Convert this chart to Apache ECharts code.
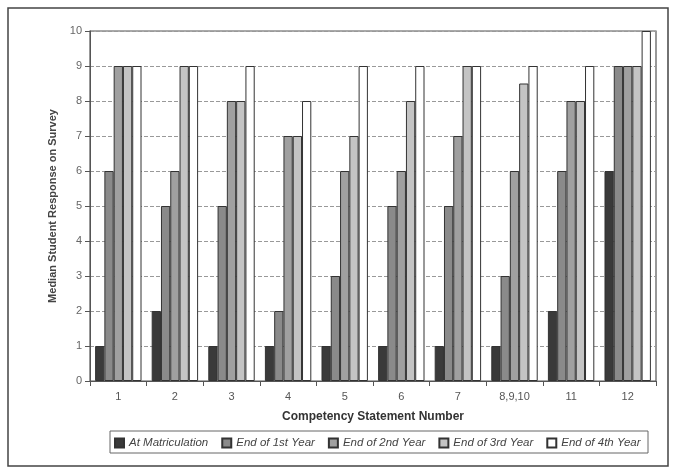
<!DOCTYPE html>
<html><head><meta charset="utf-8">
<script src="https://cdn.jsdelivr.net/npm/echarts@6/dist/echarts.min.js"></script>
<style>html,body{margin:0;padding:0;background:#fff}#c{width:676px;height:472px}</style>
</head><body><div id="c"></div>
<script>
var categories = ['1','2','3','4','5','6','7','8,9,10','11','12'];
var atMatriculation = [1,2,1,1,1,1,1,1,2,6];
var endYear1 = [6,5,5,2,3,5,5,3,6,9];
var endYear2 = [9,6,8,7,6,6,7,6,8,9];
var endYear3 = [9,9,8,7,7,8,9,8.5,8,9];
var endYear4 = [9,9,9,8,9,9,9,9,9,10];
var seriesNames = ['At Matriculation','End of 1st Year','End of 2nd Year','End of 3rd Year','End of 4th Year'];
var yTicks = [0,1,2,3,4,5,6,7,8,9,10];

var colors = ['#3a3a3a','#8a8a8a','#a0a0a0','#c4c4c4','#ffffff'];
var data = [atMatriculation,endYear1,endYear2,endYear3,endYear4];
var chart = echarts.init(document.getElementById('c'));
var font = 'Liberation Sans, Arial, sans-serif';
chart.setOption({
  animation:false,
  backgroundColor:'#fff',
  graphic:[
    {type:'rect',shape:{x:8,y:8,width:660,height:458},style:{fill:'none',stroke:'#444',lineWidth:1.5},z:-1},
    {type:'rect',shape:{x:110,y:431,width:538,height:22},style:{fill:'none',stroke:'#666',lineWidth:1},z:-1}
  ],
  grid:{left:90,right:20,top:31,bottom:91,show:true,borderColor:'#555',borderWidth:1.2,backgroundColor:'#fff'},
  legend:{top:437,left:114,padding:[0,0,0,0],icon:'rect',itemWidth:9,itemHeight:9,itemGap:13,
    textStyle:{fontFamily:font,fontStyle:'italic',fontSize:11.5,color:'#444'},
    data:seriesNames},
  xAxis:{type:'category',data:categories,
    name:'Competency Statement Number',nameLocation:'middle',nameGap:30,
    nameTextStyle:{fontFamily:font,fontWeight:'bold',fontSize:12,color:'#333'},
    axisLine:{lineStyle:{color:'#555'}},axisTick:{show:true,lineStyle:{color:'#555'}},
    axisLabel:{fontFamily:font,fontSize:11,color:'#555',margin:10}},
  yAxis:{type:'value',min:0,max:10,interval:1,
    name:'Median Student Response on Survey',nameLocation:'middle',nameGap:24,
    nameTextStyle:{fontFamily:font,fontWeight:'bold',fontSize:11,color:'#444'},
    axisLine:{show:true,lineStyle:{color:'#555'}},axisTick:{show:true,lineStyle:{color:'#555'}},
    axisLabel:{fontFamily:font,fontSize:11,color:'#666',formatter:function(v){return yTicks.indexOf(v)>=0?String(v):'';}},
    splitLine:{show:true,lineStyle:{color:'#999',type:'dashed'}}},
  series:data.map(function(d,i){return {
    name:seriesNames[i],type:'bar',data:d,barGap:'0%',barCategoryGap:'18%',
    itemStyle:{color:colors[i],borderColor:'#333',borderWidth:1}
  };})
});
</script></body></html>
